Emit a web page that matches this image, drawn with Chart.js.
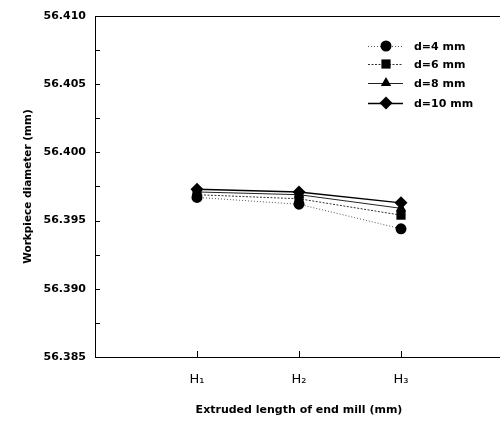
<!DOCTYPE html>
<html>
<head>
<meta charset="utf-8">
<script src="https://cdn.jsdelivr.net/npm/chart.js@4.4.1/dist/chart.umd.min.js"></script>
<style>
html,body{margin:0;padding:0;background:#fff;overflow:hidden;}
#wrap{width:510px;height:425px;position:relative;}
</style>
</head>
<body>
<div id="wrap"><canvas id="c"></canvas></div>
<script>
// Data
const categories = ['H\u2081', 'H\u2082', 'H\u2083'];
const seriesNames = ['d=4 mm', 'd=6 mm', 'd=8 mm', 'd=10 mm'];
const d4  = [56.3967, 56.3962, 56.3944];
const d6  = [56.3969, 56.3966, 56.3954];
const d8  = [56.3971, 56.3969, 56.3959];
const d10 = [56.3973, 56.3971, 56.3963];
const yTickLabels = ['56.385', '56.390', '56.395', '56.400', '56.405', '56.410'];

const FONT = "'DejaVu Sans', sans-serif";

function pts(arr) { return arr.map((v, i) => ({ x: i + 1, y: v })); }

const styles = [
  { pointStyle: 'circle',   radius: 5.5, dash: [1, 2],   color: '#555', width: 1 },
  { pointStyle: 'rect',     radius: 6.5, dash: [2, 1.5], color: '#333', width: 1 },
  { pointStyle: 'triangle', radius: 6,   dash: [],       color: '#222', width: 1 },
  { pointStyle: 'rectRot',  radius: 6.5, dash: [],       color: '#000', width: 1.4 }
];
const seriesData = [d4, d6, d8, d10];

const datasets = seriesData.map((arr, i) => ({
  label: seriesNames[i],
  data: pts(arr),
  borderColor: styles[i].color,
  borderWidth: styles[i].width,
  borderDash: styles[i].dash,
  pointStyle: styles[i].pointStyle,
  pointRadius: styles[i].radius,
  pointBackgroundColor: '#000',
  pointBorderColor: '#000',
  pointBorderWidth: 0,
  showLine: true,
  tension: 0,
  order: 4 - i
}));

const decorPlugin = {
  id: 'decor',
  afterDraw(chart) {
    const ctx = chart.ctx;
    const a = chart.chartArea;
    const xs = chart.scales.x, ys = chart.scales.y;
    ctx.save();
    ctx.strokeStyle = '#000';
    ctx.lineWidth = 1;
    ctx.beginPath();
    ctx.moveTo(a.left, a.top + 0.5);
    ctx.lineTo(a.right, a.top + 0.5);
    ctx.stroke();
    ys.ticks.forEach(t => {
      const y = Math.round(ys.getPixelForValue(t.value)) + 0.5;
      ctx.beginPath();
      ctx.moveTo(a.left, y);
      ctx.lineTo(a.left + 5, y);
      ctx.stroke();
    });
    xs.ticks.forEach(t => {
      const x = Math.round(xs.getPixelForValue(t.value)) + 0.5;
      ctx.beginPath();
      ctx.moveTo(x, a.bottom);
      ctx.lineTo(x, a.bottom - 6);
      ctx.stroke();
    });
    const lx0 = 368, lx1 = 403, mx = 386, tx = 414;
    const rowY = [46, 64, 83, 103];
    ctx.font = 'bold 11px ' + FONT;
    ctx.textBaseline = 'middle';
    ctx.textAlign = 'left';
    chart.data.datasets.forEach((ds, i) => {
      const y = rowY[i];
      ctx.save();
      ctx.strokeStyle = ds.borderColor;
      ctx.lineWidth = ds.borderWidth;
      ctx.setLineDash(ds.borderDash);
      ctx.beginPath();
      ctx.moveTo(lx0, y + 0.5);
      ctx.lineTo(lx1, y + 0.5);
      ctx.stroke();
      ctx.restore();
      ctx.fillStyle = '#000';
      ctx.strokeStyle = '#000';
      Chart.helpers.drawPoint(ctx, { pointStyle: ds.pointStyle, radius: ds.pointRadius, borderWidth: 0, rotation: 0 }, mx, y);
      ctx.fillStyle = '#000';
      ctx.fillText(ds.label, tx, y + 1);
    });
    ctx.restore();
  }
};

new Chart(document.getElementById('c'), {
  type: 'scatter',
  data: { datasets },
  options: {
    responsive: true,
    maintainAspectRatio: false,
    animation: false,
    layout: { padding: { top: 16, right: 7, left: 0, bottom: 0 } },
    plugins: { legend: { display: false }, tooltip: { enabled: false } },
    scales: {
      x: {
        type: 'linear',
        min: 0, max: 4,
        afterBuildTicks: s => { s.ticks = categories.map((c, i) => ({ value: i + 1 })); },
        afterFit: s => { s.height = 68; },
        grid: { display: true, drawOnChartArea: false, drawTicks: false },
        border: { display: true, color: '#000', width: 1 },
        ticks: {
          padding: 15,
          color: '#000',
          font: { family: FONT, size: 13 },
          callback: v => categories[v - 1] || ''
        },
        title: {
          display: true,
          text: 'Extruded length of end mill (mm)',
          color: '#000',
          font: { family: FONT, size: 11, weight: 'bold' },
          padding: { top: 0, bottom: 8 }
        }
      },
      y: {
        min: 56.385, max: 56.410,
        afterBuildTicks: s => {
          const t = [];
          for (let i = 0; i <= 10; i++) t.push({ value: 56.385 + i * 0.0025 });
          s.ticks = t;
        },
        afterFit: s => { s.width = 95; },
        grid: { display: true, drawOnChartArea: false, drawTicks: false },
        border: { display: true, color: '#000', width: 1 },
        ticks: {
          padding: 9,
          color: '#000',
          font: { family: FONT, size: 11, weight: 'bold' },
          callback: function (v, idx) { return idx % 2 === 0 ? yTickLabels[idx / 2] : ''; }
        },
        title: {
          display: true,
          text: 'Workpiece diameter (mm)',
          color: '#000',
          font: { family: FONT, size: 10.5, weight: 'bold' },
          padding: { top: 22, bottom: 0 }
        }
      }
    }
  },
  plugins: [decorPlugin]
});
</script>
</body>
</html>
